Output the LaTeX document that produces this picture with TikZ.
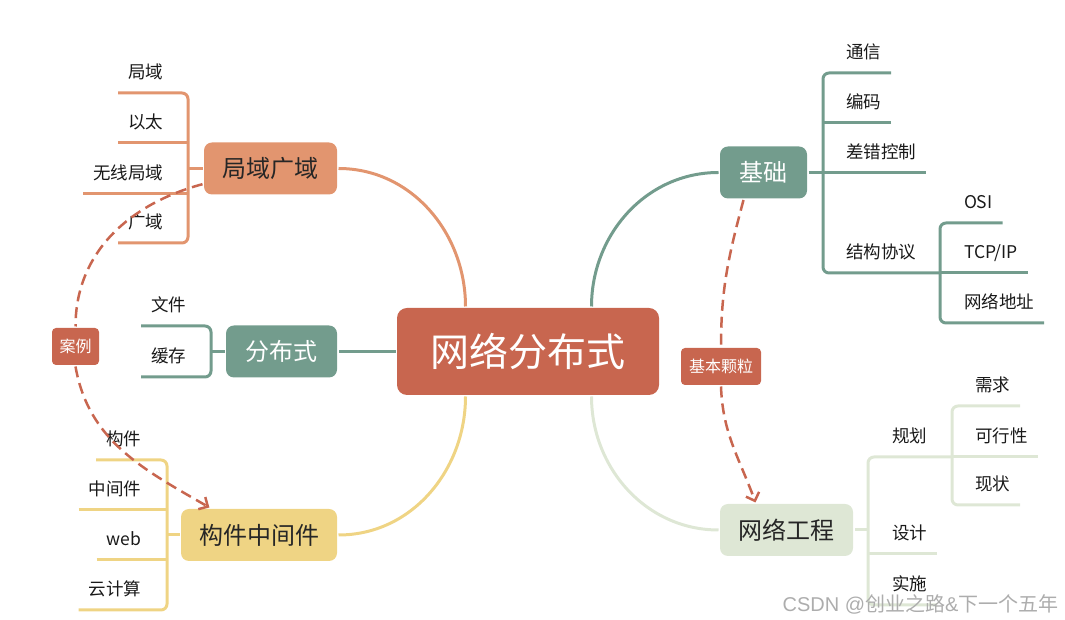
\documentclass[tikz,border=0pt]{standalone}
\usepackage{fontspec}
\setmainfont{Noto Sans CJK SC}
\newfontfamily\wmlatin{Liberation Sans}
\usetikzlibrary{arrows.meta}
\definecolor{zhuan}{RGB}{200,102,79}
\definecolor{xing}{RGB}{226,149,111}
\definecolor{qing}{RGB}{115,156,141}
\definecolor{huang}{RGB}{239,212,132}
\definecolor{dan}{RGB}{222,231,213}

\begin{document}
\begin{tikzpicture}[x=1pt, y=1pt, line width=3pt,
  topic/.style={rounded corners=8pt, minimum height=52pt, inner sep=0pt, font=\fontsize{24}{28}\selectfont},
  leaf/.style={font=\fontsize{17.5}{21}\selectfont, text=black!90, inner xsep=10pt, inner ysep=0pt,
    text height=13pt, text depth=3pt, outer xsep=0pt, outer ysep=11pt},
  tag/.style={fill=zhuan, text=white, rounded corners=4pt, minimum height=37pt, inner sep=0pt, font=\fontsize{16}{19}\selectfont},
  rel/.style={zhuan, line width=2.5pt, dash pattern=on 11pt off 6pt},
  tip/.style={-{Straight Barb[length=7pt,width=14pt]}}]

\useasboundingbox (0,0) rectangle (1065,620);

\node[fill=zhuan, text=white, rounded corners=10pt, minimum width=262pt, minimum height=87pt,
  inner sep=0pt, font=\fontsize{39}{44}\selectfont] (wl) at (528,268.5) {网络分布式};

\node[topic, fill=xing, text=black!85, minimum width=133pt] (jygy) at (270.5,451.5) {局域广域};
\node[topic, fill=qing, text=white, minimum width=111pt] (fbs) at (281.5,268.5) {分布式};
\node[topic, fill=huang, text=black!85, minimum width=156pt] (gjzj) at (259,85) {构件中间件};
\node[topic, fill=qing, text=white, minimum width=87pt] (jc) at (763.5,447.5) {基础};
\node[topic, fill=dan, text=black!85, minimum width=133pt] (wlgc) at (786.5,90) {网络工程};

\draw[xing] ([xshift=70pt]wl.north west) to[out=90,in=0] (jygy.east);
\draw[qing] (wl.west) -- (fbs.east);
\draw[huang] ([xshift=70pt]wl.south west) to[out=-90,in=0] (gjzj.east);
\draw[qing] ([xshift=-69pt]wl.north east) to[out=90,in=180] (jc.west);
\draw[dan] ([xshift=-69pt]wl.south east) to[out=-90,in=180] (wlgc.west);

\coordinate (jyv) at (188,451.5);
\node[leaf, anchor=south east] (jy1) at (173,527) {局域};
\node[leaf, anchor=south east] (jy2) at (173,477) {以太};
\node[leaf, anchor=south east] (jy3) at (173,426) {无线局域};
\node[leaf, anchor=south east] (jy4) at (173,377) {广域};
\draw[xing, rounded corners=6pt] (jy1.south west) -| (jyv) |- (jy4.south west);
\draw[xing] (jy2.south west) -- (jy2.south west -| jyv);
\draw[xing] (jy3.south west) -- (jy3.south west -| jyv);
\draw[xing] (jyv) -- (jygy);

\coordinate (fbv) at (211,268.5);
\node[leaf, anchor=south east] (fb1) at (196,294) {文件};
\node[leaf, anchor=south east] (fb2) at (196,243) {缓存};
\draw[qing, rounded corners=6pt] (fb1.south west) -| (fbv) |- (fb2.south west);
\draw[qing] (fbv) -- (fbs);

\coordinate (gjv) at (167,85);
\node[leaf, anchor=south east] (gj1) at (151,160) {构件};
\node[leaf, anchor=south east] (gj2) at (151,110) {中间件};
\node[leaf, anchor=south east] (gj3) at (151,60) {web};
\node[leaf, anchor=south east] (gj4) at (151,10) {云计算};
\draw[huang, rounded corners=6pt] (gj1.south west) -| (gjv) |- (gj4.south west);
\draw[huang] (gj2.south west) -- (gj2.south west -| gjv);
\draw[huang] (gj3.south west) -- (gj3.south west -| gjv);
\draw[huang] (gjv) -- (gjzj);

\coordinate (jcv) at (823,447.5);
\coordinate (jgv) at (940,347);
\node[leaf, anchor=south west] (jc1) at (836,547) {通信};
\node[leaf, anchor=south west] (jc2) at (836,497) {编码};
\node[leaf, anchor=south west] (jc3) at (836,447.5) {差错控制};
\node[leaf, anchor=south west] (jc4) at (836,347) {结构协议};
\node[leaf, anchor=south west] (jg1) at (954,397) {OSI};
\node[leaf, anchor=south west] (jg2) at (954,347) {TCP/IP};
\node[leaf, anchor=south west] (jg3) at (954,297) {网络地址};
\draw[qing, rounded corners=6pt] (jc1.south east) -| (jcv) |- (jgv);
\draw[qing] (jc2.south east) -- (jc2.south east -| jcv);
\draw[qing] (jc) -- (jc3.south east);
\draw[qing, rounded corners=6pt] (jg1.south east) -| (jgv) |- (jg3.south east);
\draw[qing] (jgv) -- (jg2.south east);

\coordinate (gcv) at (868,90);
\coordinate (gsv) at (952,163);
\node[leaf, anchor=south west] (gc1) at (882,163) {规划};
\node[leaf, anchor=south west] (gc2) at (882,66) {设计};
\node[leaf, anchor=south west] (gc3) at (882,15) {实施};
\node[leaf, anchor=south west] (gs1) at (965,214) {需求};
\node[leaf, anchor=south west] (gs2) at (965,163) {可行性};
\node[leaf, anchor=south west] (gs3) at (965,115) {现状};
\draw[dan, rounded corners=6pt] (gsv) -| (gcv) |- (gc3.south east);
\draw[dan] (gc2.south east) -- (gc2.south east -| gcv);
\draw[dan] (gcv) -- (wlgc);
\draw[dan, rounded corners=6pt] (gs1.south east) -| (gsv) |- (gs3.south east);
\draw[dan] (gsv) -- (gs2.south east);

\node[tag, minimum width=47pt] (al) at (75.5,273.5) {案例};
\node[tag, minimum width=80pt] (jbkl) at (721,253.5) {基本颗粒};
\draw[rel] (jygy.193) to[out=195,in=90] (al.north);
\draw[rel, tip] (al.south) to[out=-80,in=150] (gjzj.151);
\draw[rel] ([xshift=25pt]jc.south west) to[out=-105,in=90] (jbkl.north);
\draw[rel, tip] (jbkl.south) to[out=-88,in=110] ([xshift=37pt]wlgc.north west);

\node[anchor=east, inner sep=0pt, text=black!32, font=\fontsize{20}{23}\selectfont] (sy) at (1060,16)
  {{\wmlatin CSDN @}创业之路{\wmlatin\&}下一个五年};

\end{tikzpicture}
\end{document}
